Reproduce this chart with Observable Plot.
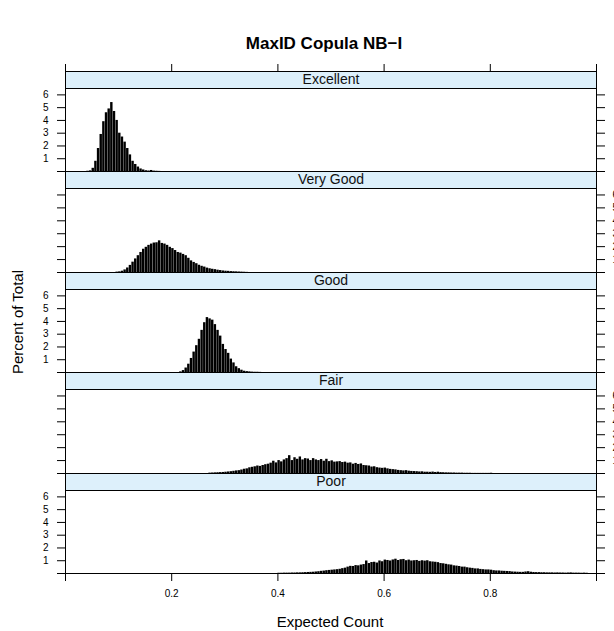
<!DOCTYPE html>
<html>
<head>
<meta charset="utf-8">
<script src="https://cdn.jsdelivr.net/npm/d3@7"></script>
<script src="https://cdn.jsdelivr.net/npm/@observablehq/plot@0.6"></script>
<style>
  html, body { margin: 0; padding: 0; background: white; }
  #root { position: relative; width: 614px; height: 631px; overflow: hidden; background: white;
          font-family: "Liberation Sans", Arial, sans-serif; color: black; }
  .abs { position: absolute; }
  .title { left: 124px; width: 400px; top: 33px; text-align: center; font-weight: bold; font-size: 17px; line-height: 22px; }
  .ylab { left: -82px; width: 200px; top: 312px; height: 20px; line-height: 20px; text-align: center; font-size: 15px; transform: rotate(-90deg); }
  .xlab { left: 230px; width: 200px; top: 612px; height: 20px; line-height: 20px; text-align: center; font-size: 15px; }
</style>
</head>
<body>
<div id="root">
  <div class="abs title">MaxID Copula NB−I</div>
  <div class="abs ylab">Percent of Total</div>
  <div class="abs xlab">Expected Count</div>
</div>
<script>
// ---------- data ----------
const panels = ["Excellent", "Very Good", "Good", "Fair", "Poor"];
const binWidth = 0.005;

const excellentStart = 0.040;
const excellentPct = [0.02, 0.05, 0.25, 0.8, 1.8, 2.9, 3.9, 4.6, 4.9, 5.4, 4.7, 4.0, 3.0, 2.7, 2.3, 1.8, 1.3, 0.8, 0.55, 0.35, 0.2, 0.12, 0.06, 0.04, 0.08, 0.03, 0.02, 0.01];

const veryGoodStart = 0.095;
const veryGoodPct = [0.03, 0.05, 0.1, 0.2, 0.35, 0.55, 0.8, 1.05, 1.3, 1.55, 1.8, 1.95, 2.1, 2.2, 2.28, 2.3, 2.45, 2.25, 2.2, 2.1,
  1.95, 1.85, 1.7, 1.55, 1.5, 1.4, 1.3, 1.1, 0.9, 0.78, 0.68, 0.56, 0.48, 0.42, 0.34, 0.29, 0.25, 0.22, 0.18, 0.15,
  0.12, 0.1, 0.09, 0.07, 0.06, 0.05, 0.04, 0.03, 0.02, 0.01];

const goodStart = 0.215;
const goodPct = [0.05, 0.15, 0.35, 0.65, 1.1, 1.6, 2.1, 2.6, 3.3, 3.9, 4.3, 4.2, 4.1, 3.75, 3.3, 2.85, 2.2, 1.8, 1.5, 1.05,
  0.75, 0.45, 0.3, 0.18, 0.1, 0.07, 0.05, 0.03, 0.02, 0.02, 0.01];

const fairStart = 0.270;
const fairPct = [0.03, 0.04, 0.05, 0.06, 0.07, 0.08, 0.10, 0.12, 0.14, 0.17, 0.20, 0.22, 0.27, 0.33, 0.36, 0.44, 0.48, 0.52, 0.58, 0.55,
  0.62, 0.68, 0.72, 0.80, 0.95, 0.82, 1.00, 0.90, 1.05, 1.15, 1.38, 1.00, 1.22, 1.10, 1.28, 1.05, 1.15, 1.12, 1.00, 1.15,
  1.05, 1.00, 1.08, 0.95, 1.10, 0.92, 0.98, 0.88, 0.90, 0.92, 0.85, 0.88, 0.80, 0.82, 0.72, 0.78, 0.70, 0.74, 0.62, 0.60,
  0.58, 0.50, 0.52, 0.45, 0.42, 0.40, 0.42, 0.36, 0.32, 0.30, 0.28, 0.24, 0.22, 0.20, 0.22, 0.18, 0.16, 0.15, 0.14, 0.12,
  0.13, 0.10, 0.10, 0.09, 0.11, 0.08, 0.10, 0.07, 0.06, 0.05, 0.05, 0.04, 0.04, 0.03, 0.03, 0.03, 0.02, 0.02, 0.02, 0.01,
  0.01, 0.01, 0.01, 0.01, 0.01, 0.01, 0.02];

const poorStart = 0.400;
const poorPct = [0.02, 0.02, 0.03, 0.03, 0.03, 0.04, 0.04, 0.05, 0.05, 0.06, 0.07, 0.08, 0.09, 0.10, 0.12, 0.14, 0.17, 0.19, 0.22, 0.24,
  0.26, 0.28, 0.30, 0.33, 0.38, 0.42, 0.50, 0.56, 0.55, 0.62, 0.60, 0.66, 0.70, 0.98, 0.78, 0.86, 0.88, 0.82, 0.98, 0.92,
  1.05, 1.02, 0.98, 1.06, 1.12, 1.02, 1.08, 1.10, 1.00, 1.05, 0.98, 1.00, 1.02, 0.95, 1.00, 0.97, 1.00, 0.92, 0.90, 0.88,
  0.85, 0.78, 0.76, 0.72, 0.68, 0.66, 0.60, 0.58, 0.55, 0.50, 0.50, 0.45, 0.42, 0.40, 0.36, 0.36, 0.32, 0.30, 0.28, 0.28,
  0.26, 0.22, 0.20, 0.20, 0.18, 0.17, 0.16, 0.15, 0.12, 0.11, 0.10, 0.09, 0.09, 0.12, 0.14, 0.10, 0.08, 0.07, 0.07, 0.06,
  0.06, 0.05, 0.05, 0.05, 0.04, 0.05, 0.04, 0.04, 0.03, 0.04, 0.05, 0.03, 0.03, 0.03, 0.02, 0.03, 0.02];

const xTicks = [0, 0.2, 0.4, 0.6, 0.8, 1];
const xTickLabels = ["", "0.2", "0.4", "0.6", "0.8", ""];
const yTicks = [0, 1, 2, 3, 4, 5, 6];
const yTickLabels = ["", "1", "2", "3", "4", "5", "6"];

const panelStarts = [excellentStart, veryGoodStart, goodStart, fairStart, poorStart];
const panelPcts = [excellentPct, veryGoodPct, goodPct, fairPct, poorPct];

// ---------- layout ----------
const W = 614, ML = 65, MR = 18;
const bounds = [71, 171, 272, 372, 473, 573]; // panel block edges (px)
const stripH = 17;
const stripFill = "#ddf0fb";
const font = "'Liberation Sans', Arial, sans-serif";
const root = document.getElementById("root");

function place(svg, top) {
  svg.style.position = "absolute";
  svg.style.left = "0px";
  svg.style.top = top + "px";
  root.appendChild(svg);
}

const xLab = d => xTickLabels[xTicks.indexOf(d)];
const yLab = d => yTickLabels[yTicks.indexOf(d)];

panels.forEach((name, i) => {
  const rows = panelPcts[i].map((p, k) => ({
    x1: panelStarts[i] + k * binWidth,
    x2: panelStarts[i] + (k + 1) * binWidth,
    pct: p
  }));

  // strip
  const mtS = i === 0 ? 12 : 0;
  const strip = Plot.plot({
    width: W, height: stripH + mtS,
    marginLeft: ML, marginRight: MR, marginTop: mtS, marginBottom: 0,
    style: {background: "transparent", fontFamily: font, fontSize: "10px", overflow: "visible"},
    x: {domain: [0, 1], axis: null},
    y: {axis: null},
    marks: [
      Plot.frame({fill: stripFill, stroke: "black"}),
      Plot.text([name], {frameAnchor: "middle", text: d => d, fontSize: 14, fill: "#111"}),
      ...(i === 0 ? [Plot.axisX(xTicks, {anchor: "top", tickSize: 8, tickFormat: () => "", label: null})] : [])
    ]
  });
  place(strip, bounds[i] - mtS);

  // data panel
  const top = bounds[i] + stripH;
  const h = bounds[i + 1] - top;
  const mb = i === 4 ? 631 - bounds[5] : 0;
  const leftLabels = i % 2 === 0;
  const panel = Plot.plot({
    width: W, height: h + mb,
    marginLeft: ML, marginRight: MR, marginTop: 0, marginBottom: mb,
    style: {background: "transparent", fontFamily: font, fontSize: "10px", overflow: "visible"},
    x: {domain: [0, 1], axis: null},
    y: {domain: [0, 6.5]},
    marks: [
      Plot.rectY(rows, {x1: "x1", x2: "x2", y: "pct", fill: "black", insetLeft: 0, insetRight: 0.25}),
      Plot.frame({stroke: "black"}),
      Plot.axisY(yTicks, {anchor: "left", tickSize: 8, tickPadding: 9, label: null,
        tickFormat: leftLabels ? yLab : () => ""}),
      Plot.axisY(yTicks, {anchor: "right", tickSize: 8, tickPadding: 8, label: null,
        tickFormat: leftLabels ? () => "" : yLab}),
      ...(i === 4 ? [Plot.axisX(xTicks, {anchor: "bottom", tickSize: 8, tickPadding: 8, label: null, tickFormat: xLab})] : [])
    ]
  });
  place(panel, top);
});
</script>
</body>
</html>
